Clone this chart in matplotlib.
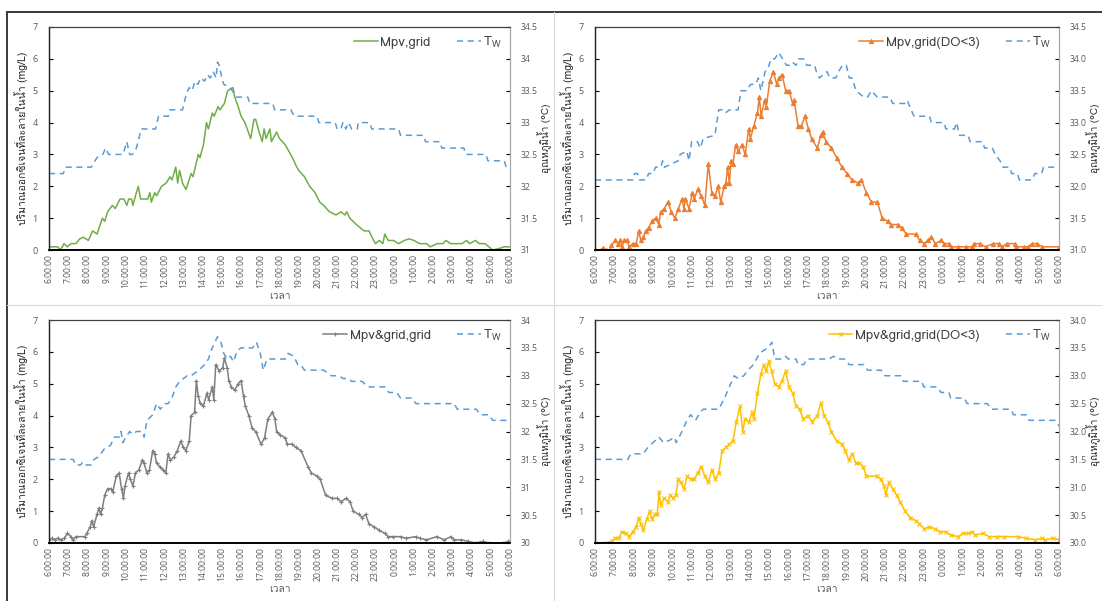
import matplotlib
matplotlib.use("Agg")
import matplotlib.pyplot as plt
from matplotlib import font_manager
from matplotlib.lines import Line2D

# ---------------------------------------------------------------------
# data: hours after 6:00 (0..24) and readings
# ---------------------------------------------------------------------

HOUR_LABELS = [f"{(6 + h) % 24}:00:00" for h in range(25)]

# top-left: Mpv,grid
tl_t = [0, 0.45, 0.6, 0.78, 0.95, 1.15, 1.4, 1.6, 1.8, 2.05, 2.27, 2.5, 2.78, 2.9, 3.05, 3.3, 3.45,
        3.7, 3.9, 4.05, 4.15, 4.3, 4.37, 4.5, 4.65, 4.77, 5.14, 5.25, 5.33, 5.5, 5.6, 5.86, 6.1,
        6.3, 6.4, 6.6, 6.7, 6.8, 6.95, 7.13, 7.4, 7.5, 7.77, 7.86, 8.04, 8.2, 8.3, 8.5, 8.6, 8.8,
        8.9, 9.13, 9.3, 9.58, 9.67, 9.85, 10.0, 10.2, 10.5, 10.67, 10.76, 10.94, 11.1, 11.2, 11.3,
        11.5, 11.58, 11.85, 12.0, 12.3, 12.58, 12.67, 12.9, 13.0, 13.3, 13.57, 13.85, 14.1, 14.3,
        14.6, 14.94, 15.2, 15.4, 15.5, 15.66, 16.0, 16.2, 16.4, 16.66, 16.9, 17.0, 17.2, 17.38,
        17.48, 17.66, 17.93, 18.2, 18.5, 18.75, 19.0, 19.3, 19.65, 19.85, 20.2, 20.5, 20.67, 20.9,
        21.5, 21.74, 21.9, 22.2, 22.4, 22.7, 22.9, 23.1, 23.45, 23.7, 24]
tl_do = [0.1, 0.1, 0.0, 0.2, 0.1, 0.2, 0.2, 0.35, 0.4, 0.3, 0.6, 0.5, 1.0, 0.9, 1.2, 1.4, 1.3,
         1.6, 1.6, 1.4, 1.6, 1.6, 1.4, 1.7, 2.0, 1.6, 1.6, 1.8, 1.5, 1.8, 1.7, 2.0, 2.1,
         2.3, 2.2, 2.6, 2.1, 2.5, 2.1, 1.9, 2.4, 2.3, 3.0, 2.9, 3.3, 4.0, 3.8, 4.3, 4.2, 4.5,
         4.4, 4.6, 5.0, 5.1, 4.8, 4.5, 4.2, 4.0, 3.5, 4.1, 4.1, 3.7, 3.4, 3.8, 3.5,
         3.8, 3.4, 3.7, 3.5, 3.3, 3.0, 2.9, 2.6, 2.5, 2.3, 2.0, 1.8, 1.5, 1.4,
         1.2, 1.1, 1.2, 1.1, 1.2, 1.0, 0.8, 0.7, 0.6, 0.6, 0.3, 0.2, 0.3, 0.2,
         0.5, 0.3, 0.3, 0.2, 0.3, 0.35, 0.3, 0.2, 0.2, 0.1, 0.2, 0.2, 0.3, 0.2,
         0.2, 0.3, 0.2, 0.3, 0.2, 0.2, 0.1, 0.0, 0.05, 0.1, 0.1]
tl_tw_t = [0, 0.75, 0.85, 2.2, 2.5, 2.8, 2.95, 3.1, 3.85, 3.95, 4.05, 4.2, 4.35, 4.55, 4.8, 5.55,
           5.7, 6.2, 6.3, 6.95, 7.15, 7.3, 7.45, 7.6, 7.75, 7.9, 8.1, 8.25, 8.4, 8.55, 8.7, 8.77,
           8.86, 9.0, 9.1, 9.4, 9.55, 9.75, 10.35, 10.45, 11.65, 11.75, 12.6, 12.67, 12.8, 13.95,
           14.05, 14.9, 15.0, 15.2, 15.3, 15.45, 15.6, 15.75, 16.05, 16.1, 16.7, 16.8, 18.2, 18.3,
           19.5, 19.6, 20.35, 20.45, 21.6, 21.7, 22.75, 22.85, 23.7, 23.8, 24]
tl_tw = [32.2, 32.2, 32.3, 32.3, 32.45, 32.5, 32.6, 32.5, 32.5, 32.6, 32.7, 32.5, 32.5, 32.6, 32.9, 32.9,
         33.1, 33.1, 33.2, 33.2, 33.45, 33.55, 33.5, 33.65, 33.6, 33.7, 33.65, 33.75, 33.7, 33.8, 33.7, 33.95,
         33.9, 33.7, 33.6, 33.55, 33.5, 33.4, 33.4, 33.3, 33.3, 33.2, 33.2, 33.15, 33.1, 33.1,
         33.0, 33.0, 32.9, 32.9, 33.0, 32.9, 33.0, 32.9, 32.9, 33.0, 33.0, 32.9, 32.9, 32.8,
         32.8, 32.7, 32.7, 32.6, 32.6, 32.5, 32.5, 32.4, 32.4, 32.3, 32.3]

# top-right: Mpv,grid(DO<3)
tr_t = [0, 0.3, 0.4, 0.55, 0.76, 0.85, 1.04, 1.2, 1.3, 1.4, 1.5, 1.67, 1.76, 1.95, 2.13, 2.26, 2.37,
        2.5, 2.62, 2.77, 2.95, 3.13, 3.3, 3.4, 3.58, 3.77, 3.95, 4.13, 4.31, 4.5, 4.6, 4.68, 4.86,
        5.04, 5.13, 5.31, 5.5, 5.68, 5.86, 6.04, 6.22, 6.37, 6.5, 6.68, 6.77, 6.86, 6.95, 7.04,
        7.13, 7.28, 7.4, 7.6, 7.77, 7.95, 8.04, 8.22, 8.4, 8.5, 8.59, 8.77, 8.86, 9.04, 9.22, 9.4,
        9.5, 9.68, 9.86, 10.04, 10.22, 10.3, 10.5, 10.68, 10.86, 11.04, 11.2, 11.5, 11.68, 11.77,
        11.95, 12.23, 12.5, 12.77, 13.04, 13.3, 13.6, 13.77, 14.04, 14.3, 14.6, 14.86, 15.13, 15.3,
        15.68, 15.86, 16.1, 16.6, 16.8, 17.04, 17.2, 17.4, 17.6, 17.9, 18.05, 18.3, 18.4, 18.78,
        19.2, 19.5, 19.6, 19.9, 20.2, 20.6, 20.9, 21.05, 21.3, 21.7, 21.8, 22.2, 22.4, 22.6, 22.87,
        23.14, 24]
tr_do = [0.0, 0.0, 0.05, 0.0, 0.0, 0.15, 0.3, 0.2, 0.3, 0.1, 0.3, 0.3, 0.1, 0.2, 0.2, 0.6, 0.3,
         0.4, 0.6, 0.7, 0.9, 1.0, 0.8, 1.2, 1.3, 1.5, 1.2, 1.0, 1.3, 1.6, 1.3, 1.6, 1.3,
         1.8, 1.6, 1.9, 1.7, 1.4, 2.7, 1.8, 1.7, 2.0, 1.5, 2.0, 2.1, 2.6, 2.1, 2.8,
         2.7, 3.3, 3.1, 3.3, 3.0, 3.8, 3.5, 3.9, 4.3, 4.8, 4.2, 4.7, 4.5, 5.3, 5.6, 5.2,
         5.4, 5.5, 5.0, 5.0, 4.6, 4.7, 3.9, 3.9, 4.2, 3.8, 3.5, 3.2, 3.6, 3.7,
         3.4, 3.2, 2.9, 2.6, 2.4, 2.2, 2.1, 2.2, 1.8, 1.5, 1.5, 1.0, 0.9, 0.8,
         0.8, 0.7, 0.5, 0.5, 0.3, 0.2, 0.3, 0.4, 0.2, 0.3, 0.2, 0.2, 0.1, 0.1,
         0.1, 0.1, 0.2, 0.2, 0.1, 0.2, 0.2, 0.1, 0.2, 0.2, 0.1, 0.1, 0.1, 0.2, 0.2,
         0.1, 0.1]
tr_tw_t = [0, 1.95, 2.05, 2.2, 2.3, 2.65, 2.77, 3.0, 3.13, 3.4, 3.5, 3.6, 4.3, 4.4, 4.75, 4.86, 5.0,
           5.3, 5.45, 5.6, 6.2, 6.4, 6.6, 6.75, 6.95, 7.4, 7.55, 7.86, 8.04, 8.3, 8.45, 8.58, 8.8,
           8.95, 9.1, 9.3, 9.5, 9.7, 9.9, 10.05, 10.2, 10.4, 10.55, 10.8, 10.95, 11.35, 11.5, 11.6,
           12.0, 12.15, 12.45, 12.6, 12.8, 13.0, 13.15, 13.3, 13.5, 13.7, 13.9, 14.1, 14.3, 14.45,
           14.6, 15.25, 15.4, 16.05, 16.15, 16.35, 16.5, 17.3, 17.4, 18.05, 18.15, 18.6, 18.7, 18.85,
           19.3, 19.4, 20.05, 20.15, 20.55, 20.7, 20.95, 21.1, 21.45, 21.55, 21.85, 21.95, 22.6,
           22.75, 23.1, 23.2, 24]
tr_tw = [32.1, 32.1, 32.2, 32.2, 32.1, 32.1, 32.2, 32.2, 32.3, 32.3, 32.4, 32.3, 32.4, 32.5, 32.55, 32.4, 32.7,
         32.7, 32.6, 32.75, 32.8, 33.2, 33.2, 33.15, 33.2, 33.2, 33.5, 33.5, 33.6, 33.6, 33.7, 33.5, 33.8,
         33.85, 34.0, 34.0, 34.1, 34.0, 33.9, 33.9, 33.95, 33.9, 34.0, 34.0, 33.9, 33.9, 33.75, 33.7,
         33.8, 33.7, 33.7, 33.8, 33.9, 33.9, 33.7, 33.7, 33.5, 33.45, 33.4, 33.4, 33.5, 33.45,
         33.4, 33.4, 33.3, 33.3, 33.35, 33.2, 33.1, 33.1, 33.0, 33.0, 32.9, 32.9, 33.0, 32.8,
         32.8, 32.7, 32.7, 32.6, 32.6, 32.5, 32.4, 32.3, 32.3, 32.2, 32.2, 32.1, 32.1,
         32.2, 32.2, 32.3, 32.3]

# bottom-left: Mpv&grid,grid
bl_t = [0, 0.15, 0.3, 0.45, 0.6, 0.8, 0.96, 1.15, 1.24, 1.4, 1.87, 1.96, 2.14, 2.23, 2.32, 2.5, 2.6,
        2.69, 2.78, 2.9, 3.05, 3.23, 3.32, 3.5, 3.65, 3.78, 3.87, 3.96, 4.14, 4.23, 4.37, 4.5, 4.68,
        4.86, 4.95, 5.1, 5.23, 5.4, 5.5, 5.6, 5.77, 5.95, 6.08, 6.2, 6.32, 6.5, 6.68, 6.86, 6.99,
        7.13, 7.3, 7.4, 7.58, 7.67, 7.77, 7.86, 8.04, 8.22, 8.31, 8.5, 8.58, 8.68, 8.86, 9.04, 9.13,
        9.28, 9.36, 9.49, 9.67, 9.85, 10.0, 10.13, 10.22, 10.4, 10.58, 10.76, 11.04, 11.22, 11.4,
        11.63, 11.76, 11.85, 12.03, 12.3, 12.4, 12.67, 12.85, 13.12, 13.48, 13.66, 13.94, 14.12,
        14.4, 14.75, 15.0, 15.2, 15.48, 15.66, 15.84, 16.12, 16.3, 16.48, 16.66, 16.94, 17.2,
        17.48, 17.66, 17.93, 18.3, 18.57, 19.11, 19.3, 19.65, 20.2, 20.57, 20.93, 21.1, 21.47,
        21.83, 22.2, 22.57, 22.93, 23.66, 23.9, 24]
bl_do = [0.1, 0.15, 0.1, 0.15, 0.1, 0.15, 0.3, 0.2, 0.1, 0.2, 0.2, 0.3, 0.5, 0.7, 0.5, 0.9, 1.1,
         0.9, 1.1, 1.5, 1.7, 1.7, 1.6, 2.1, 2.2, 1.7, 1.4, 1.8, 2.2, 2.0, 1.8, 2.2, 2.3,
         2.6, 2.5, 2.2, 2.3, 2.9, 2.8, 2.5, 2.4, 2.3, 2.2, 2.8, 2.6, 2.7, 2.9, 3.2, 3.0,
         2.9, 3.2, 4.0, 4.1, 5.1, 4.6, 4.4, 4.3, 4.7, 4.5, 4.9, 4.5, 5.6, 5.4, 5.5, 5.8,
         5.5, 5.1, 4.9, 4.8, 5.0, 5.1, 4.6, 4.3, 4.0, 3.6, 3.5, 3.1, 3.3, 3.9,
         4.1, 3.9, 3.5, 3.4, 3.3, 3.1, 3.1, 3.0, 2.9, 2.4, 2.2, 2.1, 2.0,
         1.5, 1.4, 1.4, 1.3, 1.4, 1.3, 1.0, 0.9, 0.8, 0.9, 0.6, 0.5, 0.4,
         0.3, 0.2, 0.2, 0.2, 0.15, 0.2, 0.15, 0.1, 0.2, 0.1, 0.2, 0.1, 0.1,
         0.05, 0.0, 0.05, 0.0, 0.0, 0.05, 0.05]
bl_tw_t = [0, 1.25, 1.4, 1.65, 1.75, 1.85, 2.2, 2.35, 2.6, 2.7, 2.9, 3.2, 3.4, 3.65, 3.75, 3.85, 4.0,
           4.2, 4.35, 4.55, 4.85, 4.95, 5.1, 5.4, 5.6, 5.8, 6.0, 6.2, 6.4, 6.6, 6.8, 7.2, 7.4, 7.6,
           7.8, 8.1, 8.3, 8.5, 8.77, 8.95, 9.1, 9.3, 9.45, 9.6, 9.8, 10.0, 10.6, 10.8, 11.0, 11.15,
           11.35, 12.3, 12.45, 12.75, 12.95, 13.1, 13.3, 14.3, 14.5, 14.7, 15.1, 15.3, 15.6, 15.75,
           16.3, 16.6, 17.5, 17.7, 18.1, 18.3, 18.9, 19.1, 21.1, 21.25, 22.25, 22.45, 22.9, 23.1, 24]
bl_tw = [31.5, 31.5, 31.4, 31.4, 31.45, 31.4, 31.4, 31.5, 31.55, 31.6, 31.7, 31.75, 31.9, 31.9, 32.0, 31.8, 31.9,
         32.0, 31.95, 32.0, 32.0, 31.9, 32.2, 32.3, 32.5, 32.4, 32.5, 32.5, 32.6, 32.8, 32.9, 33.0, 33.0, 33.05,
         33.1, 33.2, 33.3, 33.5, 33.7, 33.6, 33.4, 33.3, 33.35, 33.25, 33.45, 33.5, 33.5, 33.6, 33.4, 33.1,
         33.3, 33.3, 33.4, 33.35, 33.2, 33.2, 33.1, 33.1, 33.05, 33.0, 33.0, 32.95, 32.95, 32.9,
         32.9, 32.8, 32.8, 32.7, 32.7, 32.6, 32.6, 32.5, 32.5, 32.4, 32.4, 32.3, 32.3, 32.2, 32.2]

# bottom-right: Mpv&grid,grid(DO<3)
br_t = [0, 0.4, 0.86, 1.04, 1.22, 1.4, 1.58, 1.76, 1.95, 2.13, 2.26, 2.37, 2.5, 2.68, 2.82, 2.95,
        3.09, 3.22, 3.31, 3.4, 3.58, 3.77, 3.9, 4.04, 4.18, 4.31, 4.44, 4.6, 4.77, 4.95, 5.13, 5.31,
        5.5, 5.68, 5.86, 6.04, 6.22, 6.4, 6.58, 6.77, 6.95, 7.13, 7.31, 7.5, 7.64, 7.77, 7.95, 8.13,
        8.22, 8.4, 8.58, 8.73, 8.86, 8.99, 9.13, 9.3, 9.5, 9.68, 9.86, 10.04, 10.22, 10.4, 10.58,
        10.77, 11.04, 11.22, 11.5, 11.68, 11.86, 12.04, 12.22, 12.5, 12.77, 12.95, 13.13, 13.3, 13.5,
        13.68, 13.86, 14.04, 14.6, 14.77, 14.95, 15.04, 15.2, 15.4, 15.6, 15.77, 16.04, 16.3, 16.6,
        16.77, 17.04, 17.3, 17.58, 17.86, 18.13, 18.4, 18.77, 19.04, 19.31, 19.5, 19.68, 20.05,
        20.4, 20.77, 21.13, 21.86, 22.3, 22.77, 23.13, 23.3, 23.68, 24]
br_do = [0.0, 0.0, 0.05, 0.15, 0.15, 0.35, 0.3, 0.2, 0.35, 0.5, 0.8, 0.6, 0.4, 0.75, 1.0, 0.75,
         0.9, 0.9, 1.6, 1.2, 1.4, 1.3, 1.5, 1.4, 1.5, 2.0, 1.9, 1.7, 2.1, 2.0, 2.0, 2.2,
         2.4, 2.1, 1.9, 2.3, 2.0, 2.2, 2.9, 3.0, 3.1, 3.2, 3.8, 4.3, 3.5, 3.9, 3.8, 4.1,
         3.9, 4.7, 5.3, 5.6, 5.4, 5.7, 5.4, 5.0, 4.9, 5.1, 5.4, 4.9, 4.7, 4.3, 4.2,
         3.9, 4.0, 3.8, 4.0, 4.4, 4.0, 3.8, 3.5, 3.2, 3.1, 2.9, 2.6, 2.8, 2.5,
         2.5, 2.4, 2.1, 2.1, 2.0, 1.8, 1.5, 1.9, 1.7, 1.5, 1.3, 1.0, 0.8, 0.7,
         0.6, 0.45, 0.5, 0.45, 0.35, 0.35, 0.25, 0.2, 0.3, 0.3, 0.35, 0.25, 0.3,
         0.2, 0.2, 0.2, 0.2, 0.15, 0.1, 0.15, 0.1, 0.15, 0.1]
br_tw_t = [0, 1.7, 1.85, 2.5, 2.7, 3.0, 3.3, 3.55, 3.9, 4.1, 4.2, 4.5, 4.75, 4.95, 5.2, 5.45, 5.6,
           6.4, 6.7, 6.95, 7.2, 7.4, 7.7, 7.9, 8.2, 8.5, 8.7, 8.95, 9.15, 9.3, 9.7, 9.85, 10.0,
           10.4, 10.5, 10.8, 10.95, 12.1, 12.35, 12.6, 12.9, 13.15, 13.9, 14.1, 14.8, 15.0, 15.8,
           15.95, 16.9, 17.0, 17.7, 17.9, 18.3, 18.4, 19.1, 19.25, 20.3, 20.5, 21.5, 21.65, 22.3,
           22.45, 23.8, 24]
br_tw = [31.5, 31.5, 31.6, 31.6, 31.7, 31.8, 31.9, 31.8, 31.85, 31.9, 31.8, 32.0, 32.2, 32.3, 32.2, 32.35, 32.4,
         32.4, 32.6, 32.8, 33.0, 32.95, 33.0, 33.1, 33.2, 33.4, 33.45, 33.5, 33.6, 33.3, 33.3, 33.35, 33.3,
         33.3, 33.2, 33.2, 33.3, 33.3, 33.35, 33.3, 33.3, 33.2, 33.2, 33.1, 33.1, 33.0, 33.0,
         32.9, 32.9, 32.8, 32.8, 32.7, 32.7, 32.6, 32.6, 32.5, 32.5, 32.4, 32.4, 32.3, 32.3,
         32.2, 32.2, 32.1]

# ---------------------------------------------------------------------
# fonts: pick whatever installed family has Thai glyphs
# ---------------------------------------------------------------------

def find_thai_family():
    try:
        from fontTools.ttLib import TTFont
    except ImportError:
        return None
    for f in font_manager.fontManager.ttflist:
        try:
            tt = TTFont(f.fname, fontNumber=0, lazy=True)
            cmap = tt.getBestCmap()
            if cmap and 0x0E01 in cmap:
                return f.name
        except Exception:
            continue
    return None


THAI = find_thai_family()
BASE = "Open Sans"
FAMILY = [THAI, BASE, "DejaVu Sans"] if THAI else [BASE, "DejaVu Sans"]
plt.rcParams["font.family"] = FAMILY
plt.rcParams["mathtext.fontset"] = "custom"
plt.rcParams["mathtext.rm"] = BASE
plt.rcParams["mathtext.it"] = BASE

TXT = "#595959"
BLUE = "#5B9BD5"

PANELS = [
    # (rect in px: left, top, right, bottom), series, label, colour, marker, right-axis range, fmt
    ((49, 27, 510, 250), tl_t, tl_do, tl_tw_t, tl_tw, "Mpv,grid", "#70AD47", None, (31, 34.5), "{:g}"),
    ((595, 27, 1059, 250), tr_t, tr_do, tr_tw_t, tr_tw, "Mpv,grid(DO<3)", "#ED7D31", "^", (31, 34.5), "{:.1f}"),
    ((49, 320, 510, 543), bl_t, bl_do, bl_tw_t, bl_tw, "Mpv&grid,grid", "#7F7F7F", "+", (30, 34), "{:g}"),
    ((595, 320, 1059, 543), br_t, br_do, br_tw_t, br_tw, "Mpv&grid,grid(DO<3)", "#FFC000", "x", (30, 34), "{:.1f}"),
]

W, H = 1102, 601
fig = plt.figure(figsize=(W / 100, H / 100), dpi=100)

# screenshot frame lines
fig.add_artist(Line2D([7 / W, 1], [1 - 12 / H, 1 - 12 / H], color="#3a3a3a", lw=1.4))
fig.add_artist(Line2D([7 / W, 7 / W], [0, 1 - 12 / H], color="#3a3a3a", lw=1.4))
fig.add_artist(Line2D([554 / W, 554 / W], [0, 1 - 12 / H], color="#d9d9d9", lw=0.8))
fig.add_artist(Line2D([7 / W, 1], [1 - 305 / H, 1 - 305 / H], color="#d9d9d9", lw=0.8))

for rect, t, do, tw_t, tw, name, color, marker, tw_lim, fmt in PANELS:
    x0, y0, x1, y1 = rect
    ax = fig.add_axes([x0 / W, 1 - y1 / H, (x1 - x0) / W, (y1 - y0) / H])
    ax2 = ax.twinx()

    h1, = ax.plot(t, do, color=color, lw=1.1, marker=marker, ms=3, mew=0.8, label=name)
    h2, = ax2.plot(tw_t, tw, color=BLUE, lw=1.1, ls=(0, (4, 3)), label="T$_W$")

    ax.set_xlim(0, 24)
    ax.set_ylim(0, 7)
    ax2.set_ylim(*tw_lim)
    ax.set_xticks(range(25))
    ax.set_xticklabels(HOUR_LABELS, rotation=90, fontsize=6.2, color=TXT, family=[BASE])
    ax.set_yticks(range(8))
    ax.set_yticklabels([str(v) for v in range(8)], fontsize=6.5, color=TXT, family=[BASE])
    lo, hi = tw_lim
    ticks = [lo + 0.5 * i for i in range(int((hi - lo) / 0.5) + 1)]
    ax2.set_yticks(ticks)
    ax2.set_yticklabels([fmt.format(v) for v in ticks], fontsize=6.2, color=TXT, family=[BASE])

    ax.tick_params(axis="x", length=0, pad=3)
    ax.tick_params(axis="y", direction="in", length=3, pad=8)
    ax2.tick_params(axis="y", direction="in", length=3, pad=8)

    for a in (ax, ax2):
        a.spines["bottom"].set_color("black")
        a.spines["bottom"].set_linewidth(1.2)
        a.spines["left"].set_color("#262626")
        a.spines["left"].set_linewidth(0.9)
        a.spines["top"].set_color("#404040")
        a.spines["top"].set_linewidth(0.8)
        a.spines["right"].set_color("#a6a6a6")
        a.spines["right"].set_linewidth(0.8)

    ax.set_xlabel("เวลา", fontsize=7.5, color=TXT, labelpad=2)
    ax.set_ylabel("ปริมาณออกซิเจนที่ละลายในน้ำ (mg/L)", fontsize=7.5, color="#262626", labelpad=3)
    fig.text((x1 + 35) / W, 1 - (y0 + y1) / 2 / H, "อุณหภูมิน้ำ (°C)", fontsize=7.2,
             color="#262626", rotation=90, ha="center", va="center")

    ax2.legend([h1, h2], [name, "T$_W$"], loc="upper right", ncol=2, frameon=False,
               fontsize=9.5, handlelength=1.8, columnspacing=2.0, handletextpad=0.2,
               borderaxespad=0.2, labelcolor="#404040")

fig.savefig("out.png", dpi=100)
